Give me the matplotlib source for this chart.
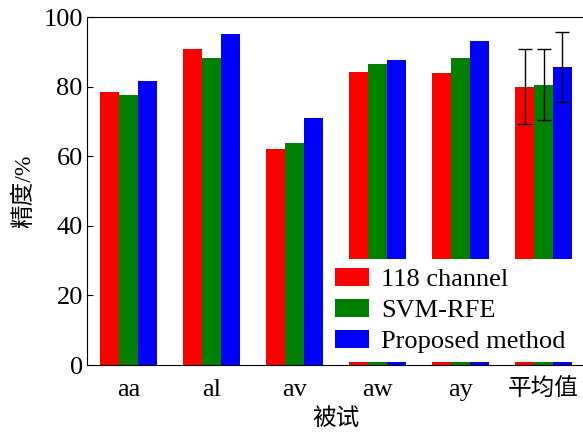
import numpy as np
import matplotlib.pyplot as plt

plt.rcParams['font.family'] = ['Liberation Serif', 'Noto Sans CJK SC']

subjects = ['aa', 'al', 'av', 'aw', 'ay', '平均值']
ch118 = [78.4, 90.8, 62.1, 84.3, 84.0, 80.0]
svm_rfe = [77.7, 88.2, 63.8, 86.6, 88.3, 80.6]
proposed = [81.6, 95.1, 71.0, 87.6, 93.2, 85.7]
# std only on the average group
err_118 = [0, 0, 0, 0, 0, 10.7]
err_svm = [0, 0, 0, 0, 0, 10.3]
err_prop = [0, 0, 0, 0, 0, 10.1]

fig = plt.figure(figsize=(5.83, 4.34), dpi=100)
ax = fig.add_axes([87 / 583, 69 / 434, 498 / 583, 348 / 434])

x = np.arange(len(subjects))
w = 0.225
series = [(ch118, err_118, 'red', '118 channel'),
          (svm_rfe, err_svm, 'green', 'SVM-RFE'),
          (proposed, err_prop, 'blue', 'Proposed method')]
for i, (vals, err, col, lab) in enumerate(series):
    pos = x + (i - 1) * w
    ax.bar(pos, vals, w, color=col, label=lab)
    e = np.array(err)
    m = e > 0
    ax.errorbar(pos[m], np.array(vals)[m], yerr=e[m], fmt='none',
                ecolor='black', elinewidth=1, capsize=5, capthick=1)

ax.set_xlim(-0.5, 5.5)
ax.set_ylim(0, 100)
ax.set_yticks([0, 20, 40, 60, 80, 100])
ax.set_xticks(x)
ax.set_xticklabels(subjects)
ax.tick_params(axis='y', direction='in', length=4, labelsize=19, pad=3)
ax.tick_params(axis='x', length=0, labelsize=19, pad=10)
for t in ax.get_xticklabels():
    if t.get_text() == '平均值':
        t.set_fontsize(17)
ax.set_ylabel('精度/%', fontsize=17, labelpad=6)
ax.set_xlabel('被试', fontsize=17, labelpad=5)

leg = ax.legend(loc='lower right', bbox_to_anchor=(0.985, 0.0), fontsize=19,
                frameon=True, framealpha=1, edgecolor='white', fancybox=False,
                handlelength=1.3, handleheight=0.65, labelspacing=0.3,
                borderaxespad=0.1, handletextpad=0.45, borderpad=0.35)
leg.get_frame().set_linewidth(0)

fig.savefig('out.png', dpi=100)
